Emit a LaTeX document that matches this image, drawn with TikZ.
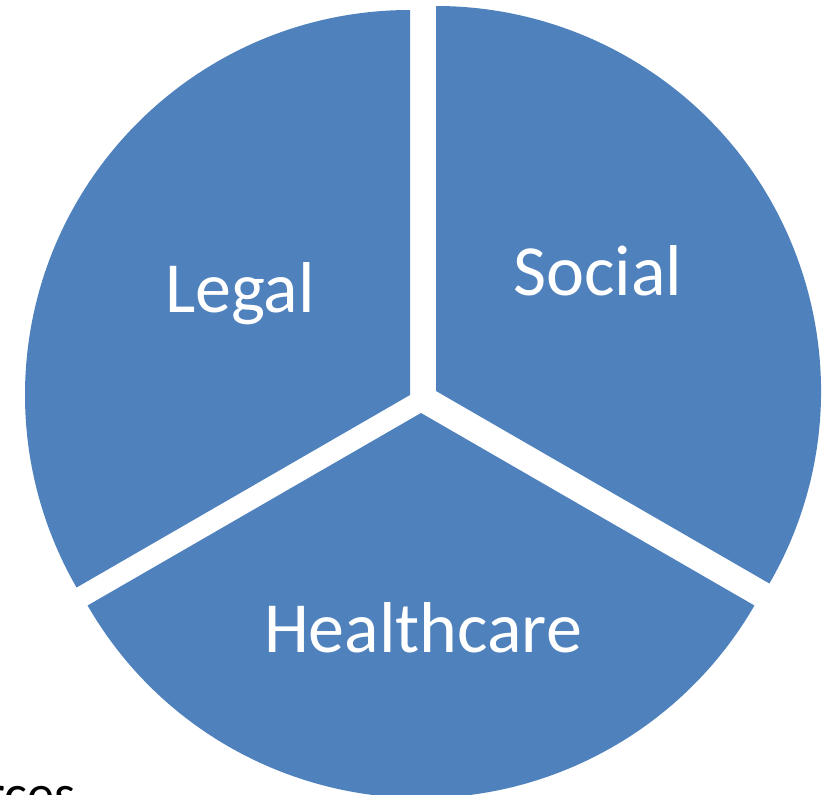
\documentclass[tikz,border=0pt]{standalone}
\usepackage{fontspec}
\setmainfont{Carlito}
\definecolor{pieblue}{RGB}{79,129,189}
\begin{document}
\begin{tikzpicture}[x=1pt,y=1pt,
  sector/.style={fill=pieblue,draw=none},
  lbl/.style={text=white,font=\fontsize{72}{86}\selectfont,anchor=base,inner sep=0pt},
  bgtext/.style={text=black,font=\fontsize{54}{64}\selectfont,anchor=base west,inner sep=0pt}]
\useasboundingbox (0,0) rectangle (823,-795);
\clip (0,0) rectangle (823,-795);
% sectors
\fill[sector] (410,-395) -- ++(90:385) arc (90:210:385) -- cycle;
\fill[sector] (436,-391) -- ++(-30:385) arc (-30:90:385) -- cycle;
\fill[sector] (421,-413) -- ++(210:385) arc (210:330:385) -- cycle;
% labels
\node[lbl] (legal) at (240,-312) {Legal};
\node[lbl] (social) at (598,-295) {Social};
\node[lbl] (health) at (423,-652) {Healthcare};
% partly visible background text
\node[bgtext] (bg) at (-14,-812) {rces};
\end{tikzpicture}
\end{document}
